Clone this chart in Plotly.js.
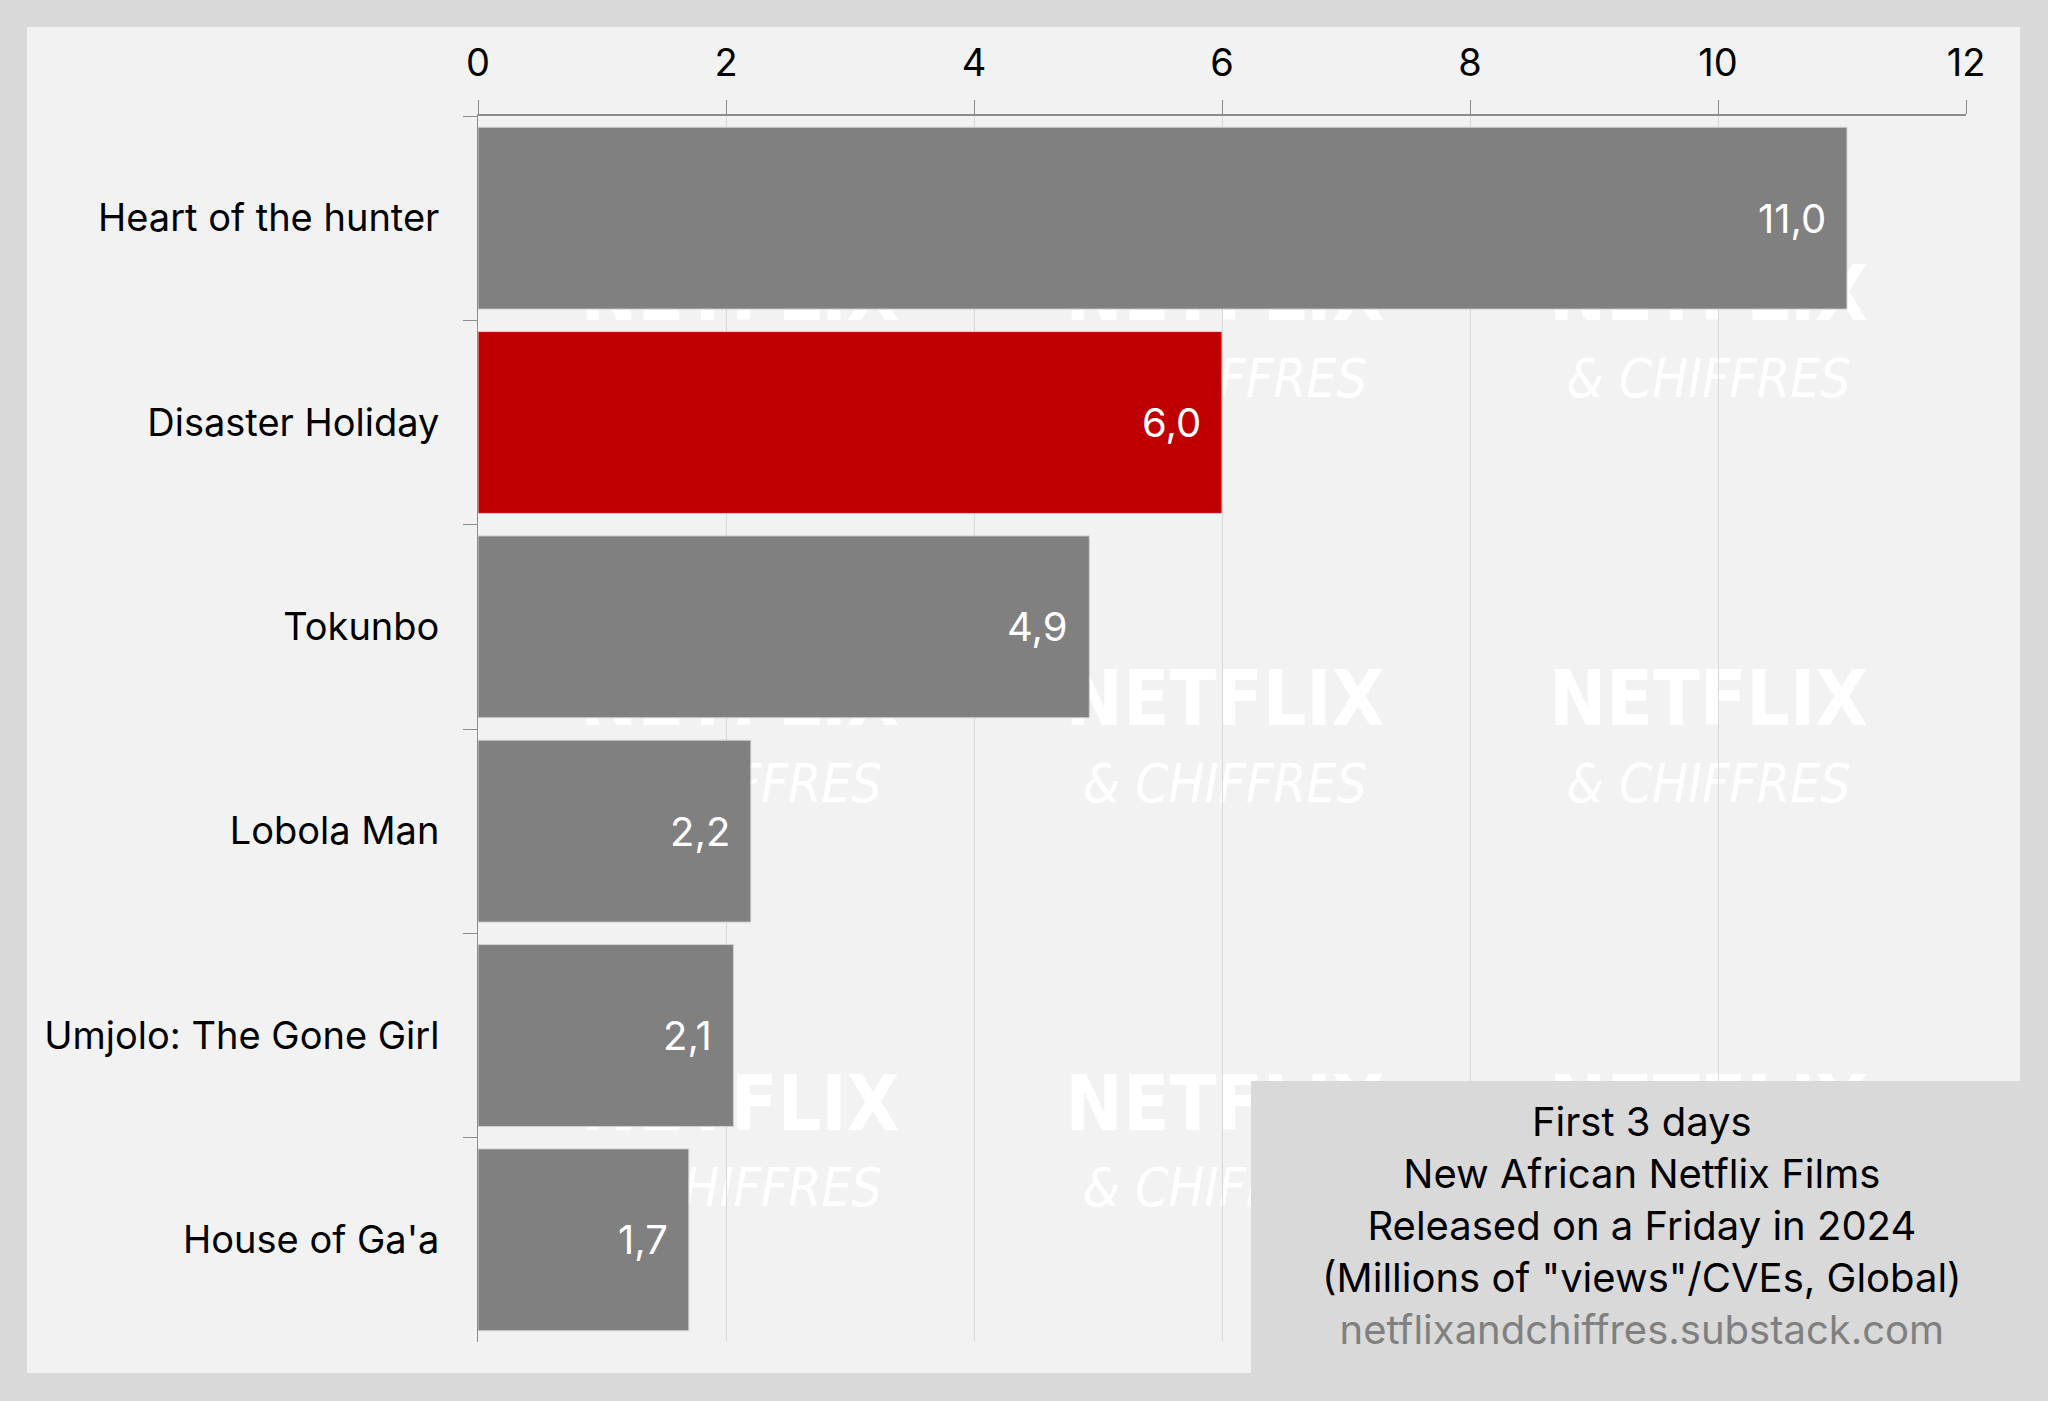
<!DOCTYPE html>
<html>
<head>
<meta charset="utf-8">
<script src="https://cdn.plot.ly/plotly-3.0.1.min.js"></script>
<style>
  body { margin: 0; background: #d9d9d9; }
  #chart { width: 2048px; height: 1401px; }
</style>
</head>
<body>
<div id="chart"></div>
<script>
// films, first 3 days, millions of views
var films = ['Heart of the hunter', 'Disaster Holiday', 'Tokunbo', 'Lobola Man', 'Umjolo: The Gone Girl', "House of Ga'a"];
var views = [11.04, 6.0, 4.93, 2.2, 2.06, 1.7];
var barColors = ['#808080', '#c00000', '#808080', '#808080', '#808080', '#808080'];
var xTicks = [0, 2, 4, 6, 8, 10, 12];

var noteLines = ['First 3 days', 'New African Netflix Films', 'Released on a Friday in 2024', '(Millions of "views"/CVEs, Global)'];
var sourceText = 'netflixandchiffres.substack.com';

var mainFont = 'Inter, Roboto, sans-serif';
var wmFont = '"Liberation Sans Narrow", "DejaVu Sans Condensed", sans-serif';

var trace = {
  type: 'bar',
  orientation: 'h',
  x: views,
  y: films,
  marker: { color: barColors, line: { color: '#d0d0d0', width: 1 } },
  hoverinfo: 'none'
};

// value labels inside the bar ends
var labels = films.map(function (f, i) {
  return {
    x: views[i], y: f, xref: 'x', yref: 'y',
    text: views[i].toFixed(1).replace('.', ','),
    showarrow: false, xanchor: 'right', xshift: -19,
    font: { family: mainFont, size: 40, color: '#ffffff' }
  };
});

// info box text
labels.push({
  x: 0.782, y: 0.0954, xref: 'paper', yref: 'paper',
  xanchor: 'center', yanchor: 'middle', showarrow: false, align: 'center',
  text: noteLines.join('<br>') + '<br><span style="color:#808080">' + sourceText + '</span>',
  font: { family: mainFont, size: 40, color: '#000000' }
});

// watermark grid
var wmCols = [0.176, 0.502, 0.827];
var wmRows = [[0.859, 0.789], [0.529, 0.459], [0.199, 0.129]];
var shapes = [{
  type: 'rect', xref: 'paper', yref: 'paper', layer: 'below',
  x0: -0.3031, x1: 1.0363, y0: -0.0253, y1: 1.0726,
  fillcolor: '#f2f2f2', line: { width: 0 }
}];
wmRows.forEach(function (r) {
  wmCols.forEach(function (c) {
    shapes.push({
      type: 'rect', xref: 'paper', yref: 'paper', layer: 'below',
      x0: c - 0.1, x1: c + 0.1, y0: r[0] - 0.03, y1: r[0] + 0.03,
      fillcolor: 'rgba(0,0,0,0)', line: { width: 0 },
      label: { text: 'NETFLIX', textposition: 'middle center',
        font: { family: wmFont, size: 76, weight: 'bold', color: '#ffffff' } }
    });
    shapes.push({
      type: 'rect', xref: 'paper', yref: 'paper', layer: 'below',
      x0: c - 0.1, x1: c + 0.1, y0: r[1] - 0.03, y1: r[1] + 0.03,
      fillcolor: 'rgba(0,0,0,0)', line: { width: 0 },
      label: { text: '& CHIFFRES', textposition: 'middle center',
        font: { family: wmFont, size: 53, style: 'italic', color: '#ffffff' } }
    });
  });
});
// grey notch holding the note
shapes.push({
  type: 'rect', xref: 'paper', yref: 'paper', layer: 'above',
  x0: 0.5195, x1: 1.0363, y0: -0.0253, y1: 0.2129,
  fillcolor: '#d9d9d9', line: { width: 0 }
});

var layout = {
  width: 2048,
  height: 1401,
  paper_bgcolor: '#d9d9d9',
  plot_bgcolor: '#f2f2f2',
  margin: { l: 478, r: 82, t: 116, b: 59 },
  showlegend: false,
  bargap: 0.11,
  font: { family: mainFont, color: '#000000' },
  xaxis: {
    side: 'top',
    range: [0, 12],
    tickvals: xTicks,
    ticks: 'outside', ticklen: 14, tickcolor: '#8c8c8c', tickwidth: 1,
    showline: true, linecolor: '#8c8c8c', linewidth: 2,
    showgrid: true, gridcolor: '#d9d9d9', gridwidth: 1,
    zeroline: false,
    tickfont: { family: mainFont, size: 38, color: '#000000' },
    ticklabelstandoff: 9,
    fixedrange: true
  },
  yaxis: {
    autorange: 'reversed',
    ticks: 'outside', ticklen: 14, tickcolor: '#8c8c8c', tickwidth: 1,
    tickson: 'boundaries',
    showline: true, linecolor: '#8c8c8c', linewidth: 1,
    showgrid: false,
    tickfont: { family: mainFont, size: 38, color: '#000000' },
    ticklabelstandoff: 30,
    fixedrange: true
  },
  annotations: labels,
  shapes: shapes
};

Plotly.newPlot('chart', [trace], layout, { displayModeBar: false, staticPlot: true });
</script>
</body>
</html>
